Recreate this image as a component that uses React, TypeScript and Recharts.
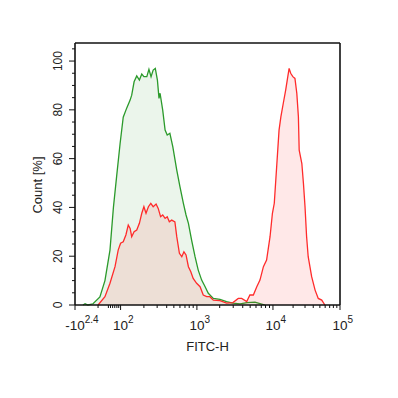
import { AreaChart, Area, XAxis, YAxis, ReferenceLine } from "recharts";

// x is the display channel of the logicle axis (0..1000), y is Count [%]
const greenX = [30, 38, 49, 68, 94, 113, 132, 145, 157, 170, 182, 195, 208, 214, 223, 233, 243, 252, 260, 271, 279, 287, 295, 303, 311, 317, 321, 331, 340, 348, 358, 369, 384, 396, 409, 419, 428, 440, 453, 465, 478, 491, 503, 522, 547, 572, 596, 623, 649, 679, 698, 717];
const greenY = [0, 0.5, 0, 0.5, 3.3, 10, 22.5, 40, 52.6, 66, 77, 80.7, 84, 86, 91.5, 93.9, 92.2, 94.7, 93.6, 93.6, 96.6, 93.6, 96.3, 97, 92.2, 84.7, 86.8, 79.9, 71.7, 69.7, 70.4, 64.9, 55.3, 48.5, 41.7, 36.9, 33.5, 26.6, 19.8, 14.3, 10.2, 7.5, 4.8, 2.7, 2.3, 1.4, 0.8, 0.5, 1, 1.2, 0.6, 0];

const redX = [87, 113, 132, 151, 163, 172, 182, 192, 201, 208, 214, 223, 233, 243, 252, 260, 268, 277, 286, 295, 306, 314, 323, 331, 340, 348, 356, 365, 377, 384, 394, 403, 411, 419, 428, 437, 446, 459, 472, 484, 497, 509, 522, 547, 572, 596, 616, 629, 648, 660, 673, 686, 698, 711, 723, 736, 745, 752, 761, 770, 777, 786, 795, 803, 808, 814, 822, 830, 837, 843, 846, 856, 862, 868, 874, 880, 893, 906, 918, 931, 943];
const redY = [0, 3.4, 8.9, 15.7, 22.5, 25.3, 25.9, 28.7, 32.8, 31.4, 28, 30, 30.7, 33.5, 37.6, 40.3, 37.6, 40.3, 41.7, 40.3, 41.4, 39.6, 36.2, 36.9, 35.5, 36.2, 34.1, 34.8, 34.1, 28, 21.2, 19.8, 21.8, 20.5, 15.7, 13.6, 10.9, 8.9, 7.5, 4.1, 3.4, 3.4, 2, 1.8, 0.8, 1, 2.7, 2.7, 1.4, 4.1, 4.1, 7.5, 10.2, 15.7, 18.4, 28, 37.6, 41.7, 56.7, 71.7, 77.2, 82.7, 88.1, 93.6, 97, 95, 93.6, 92.9, 86.8, 77.2, 63.5, 58, 49.9, 40.3, 28, 19.8, 11.6, 6.1, 2.7, 2, 0];

const xMajor = [0, 172, 460, 747, 1000];
const xBase = ["-10", "10", "10", "10", "10"];
const xExp = ["2.4", "2", "3", "4", "5"];
const xMinor = [87, 126, 134, 142, 150, 158, 165, 260, 310, 346, 373, 396, 415, 431, 446, 546, 597, 633, 661, 683, 703, 719, 734, 823, 868, 899, 924, 944, 961, 975, 988];

const yMax = 107.4;
const yMajor = [0, 20, 40, 60, 80, 100];
const yMinor = [5, 10, 15, 25, 30, 35, 45, 50, 55, 65, 70, 75, 85, 90, 95, 105];

const green = greenX.map((x, i) => ({ x, y: greenY[i] }));
const red = redX.map((x, i) => ({ x, y: redY[i] }));

const AXIS = "#111";
const TEXT = "#222";
const FONT = "'Liberation Sans', Arial, sans-serif";

const XTick = ({ x, y, payload }: any) => {
  const i = xMajor.indexOf(payload.value);
  if (i < 0) return <line x1={x} x2={x} y1={y} y2={y + 3} stroke={AXIS} />;
  const w = xBase[i] === "-10" ? 19.5 : 15;
  return (
    <g>
      <line x1={x} x2={x} y1={y} y2={y + 5} stroke={AXIS} />
      <text x={x - w / 2} y={y + 25} fill={TEXT} fontSize={13.5} fontFamily={FONT}>
        <tspan>{xBase[i]}</tspan>
        <tspan dy={-7} fontSize={10}>{xExp[i]}</tspan>
      </text>
    </g>
  );
};

const YTick = ({ x, y, payload }: any) => {
  const major = yMajor.includes(payload.value);
  return (
    <g>
      <line x1={x - (major ? 6 : 3)} x2={x} y1={y} y2={y} stroke={AXIS} />
      {major && (
        <text
          x={x - 13}
          y={y}
          transform={`rotate(-90 ${x - 13} ${y})`}
          textAnchor="middle"
          fill={TEXT}
          fontSize={12}
          fontFamily={FONT}
        >
          {payload.value}
        </text>
      )}
    </g>
  );
};

export default function App() {
  return (
    <div style={{ position: "absolute", left: 0, top: 0, background: "#fff" }}>
      <AreaChart width={398} height={398} margin={{ top: 43, right: 58, bottom: 43, left: 15 }}>
        <XAxis
          dataKey="x"
          type="number"
          domain={[0, 1000]}
          ticks={[...xMajor, ...xMinor].sort((a, b) => a - b)}
          interval={0}
          tick={<XTick />}
          tickLine={false}
          tickSize={0}
          tickMargin={0}
          height={50}
          axisLine={{ stroke: AXIS, strokeWidth: 1.6 }}
          allowDuplicatedCategory={false}
          label={{
            value: "FITC-H",
            position: "insideBottom",
            offset: 0,
            dy: -4,
            fill: TEXT,
            fontSize: 13,
            fontFamily: FONT,
          }}
        />
        <YAxis
          type="number"
          domain={[0, yMax]}
          ticks={[...yMajor, ...yMinor].sort((a, b) => a - b)}
          interval={0}
          tick={<YTick />}
          tickLine={false}
          tickSize={0}
          tickMargin={0}
          width={60}
          axisLine={{ stroke: AXIS, strokeWidth: 1.6 }}
          label={{
            value: "Count [%]",
            angle: -90,
            position: "insideLeft",
            offset: 22,
            dy: 11,
            fill: TEXT,
            fontSize: 13,
            fontFamily: FONT,
            style: { textAnchor: "middle" },
          }}
        />
        <ReferenceLine x={1000} stroke={AXIS} strokeWidth={1.6} ifOverflow="extendDomain" />
        <ReferenceLine y={yMax} stroke={AXIS} strokeWidth={1.6} ifOverflow="extendDomain" />
        <Area
          data={green}
          dataKey="y"
          type="linear"
          stroke="#2b9a2b"
          strokeWidth={1.3}
          fill="#1f8f1f"
          fillOpacity={0.09}
          isAnimationActive={false}
        />
        <Area
          data={red}
          dataKey="y"
          type="linear"
          stroke="#ff2b2b"
          strokeWidth={1.3}
          fill="#ff2020"
          fillOpacity={0.1}
          isAnimationActive={false}
        />
      </AreaChart>
    </div>
  );
}
